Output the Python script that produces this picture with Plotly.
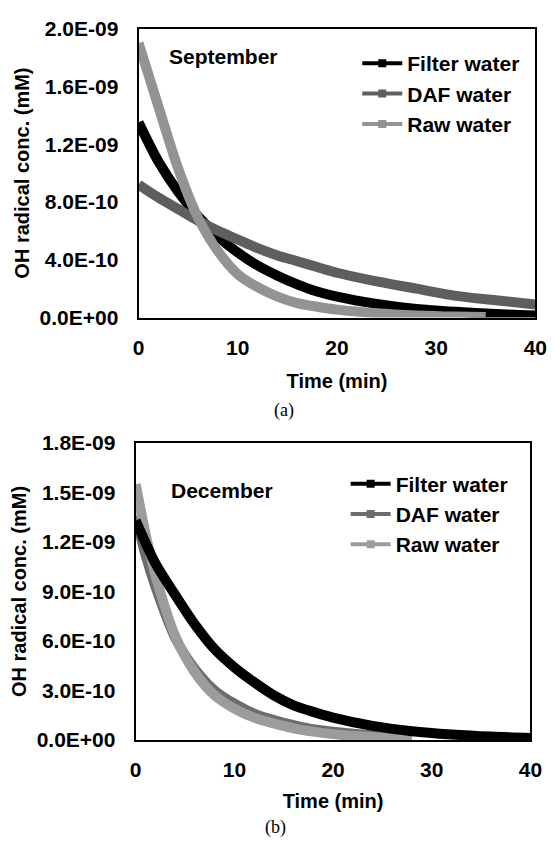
import plotly.graph_objects as go

# ---------------- data (OH radical conc., mM) ----------------
time_sep = [0, 2, 4, 6, 8, 10, 12, 14, 16, 18, 20, 24, 28, 32, 36, 40]
sep_filter = [1.35e-9, 1.08e-9, 0.87e-9, 0.70e-9, 0.56e-9, 0.45e-9, 0.36e-9, 0.29e-9,
              0.23e-9, 0.18e-9, 0.145e-9, 0.095e-9, 0.06e-9, 0.04e-9, 0.025e-9, 0.015e-9]
sep_daf = [0.92e-9, 0.83e-9, 0.75e-9, 0.67e-9, 0.60e-9, 0.54e-9, 0.48e-9, 0.43e-9,
           0.39e-9, 0.35e-9, 0.31e-9, 0.25e-9, 0.20e-9, 0.15e-9, 0.12e-9, 0.09e-9]
time_sep_raw = [0, 2, 4, 6, 8, 10, 12, 14, 16, 18, 20, 24, 28, 32, 35]
sep_raw = [1.90e-9, 1.46e-9, 1.03e-9, 0.69e-9, 0.46e-9, 0.30e-9, 0.21e-9, 0.145e-9,
           0.10e-9, 0.075e-9, 0.055e-9, 0.03e-9, 0.015e-9, 0.007e-9, 0.004e-9]

time_dec = [0, 2, 4, 6, 8, 10, 12, 14, 16, 18, 20, 24, 28, 32, 36, 40]
dec_filter = [1.33e-9, 1.07e-9, 0.88e-9, 0.70e-9, 0.55e-9, 0.44e-9, 0.35e-9, 0.27e-9,
              0.21e-9, 0.17e-9, 0.135e-9, 0.085e-9, 0.053e-9, 0.033e-9, 0.02e-9, 0.012e-9]
time_dec_gray = [0, 1, 2, 4, 6, 8, 10, 12, 14, 16, 18, 20, 24, 28]
dec_daf = [1.36e-9, 1.12e-9, 0.93e-9, 0.62e-9, 0.43e-9, 0.30e-9, 0.22e-9, 0.16e-9,
           0.12e-9, 0.09e-9, 0.065e-9, 0.05e-9, 0.028e-9, 0.015e-9]
dec_raw = [1.55e-9, 1.25e-9, 1.00e-9, 0.63e-9, 0.41e-9, 0.27e-9, 0.19e-9, 0.135e-9,
           0.10e-9, 0.07e-9, 0.05e-9, 0.035e-9, 0.018e-9, 0.008e-9]

series_names = ["Filter water", "DAF water", "Raw water"]
x_ticks = [0, 10, 20, 30, 40]
sep_yticks = [0, 0.4e-9, 0.8e-9, 1.2e-9, 1.6e-9, 2.0e-9]
sep_yticktext = ["0.0E+00", "4.0E-10", "8.0E-10", "1.2E-09", "1.6E-09", "2.0E-09"]
dec_yticks = [0, 0.3e-9, 0.6e-9, 0.9e-9, 1.2e-9, 1.5e-9, 1.8e-9]
dec_yticktext = ["0.0E+00", "3.0E-10", "6.0E-10", "9.0E-10", "1.2E-09", "1.5E-09", "1.8E-09"]

# ---------------- styling ----------------
W, H = 557, 856
FONT = "Liberation Sans, Arial, sans-serif"
sep_colors = ["#000000", "#5e5e5e", "#939393"]
dec_colors = ["#000000", "#6c6c6c", "#9c9c9c"]
LW = 10


def px_x(p):
    return p / W


def px_y(p):
    return 1 - p / H


def bold(size):
    return dict(family=FONT, size=size, color="black", weight="bold")


fig = go.Figure()

# September panel curves
for t, v, c, n in [(time_sep, sep_filter, sep_colors[0], series_names[0]),
                   (time_sep, sep_daf, sep_colors[1], series_names[1]),
                   (time_sep_raw, sep_raw, sep_colors[2], series_names[2])]:
    fig.add_trace(go.Scatter(x=t, y=v, mode="lines", name=n, showlegend=False,
                             line=dict(color=c, width=LW, shape="spline", smoothing=0.8),
                             xaxis="x", yaxis="y"))
# December panel curves
for t, v, c, n in [(time_dec_gray, dec_daf, dec_colors[1], series_names[1]),
                   (time_dec_gray, dec_raw, dec_colors[2], series_names[2]),
                   (time_dec, dec_filter, dec_colors[0], series_names[0])]:
    fig.add_trace(go.Scatter(x=t, y=v, mode="lines", name=n, showlegend=False,
                             line=dict(color=c, width=LW, shape="spline", smoothing=0.8),
                             xaxis="x2", yaxis="y2"))

# legend entries
for i, n in enumerate(series_names):
    fig.add_trace(go.Scatter(x=[None], y=[None], mode="lines+markers", name=n,
                             line=dict(color=sep_colors[i], width=4),
                             marker=dict(color=sep_colors[i], size=8, symbol="square"),
                             xaxis="x", yaxis="y", legend="legend"))
for i, n in enumerate(series_names):
    fig.add_trace(go.Scatter(x=[None], y=[None], mode="lines+markers", name=n,
                             line=dict(color=dec_colors[i], width=4),
                             marker=dict(color=dec_colors[i], size=8, symbol="square"),
                             xaxis="x2", yaxis="y2", legend="legend2"))

axis_common = dict(showline=True, linecolor="black", linewidth=2, mirror=True,
                   showgrid=False, zeroline=False, ticks="",
                   tickfont=bold(21))

fig.update_layout(
    width=W, height=H,
    margin=dict(l=0, r=0, t=0, b=0),
    paper_bgcolor="white", plot_bgcolor="white",
    font=dict(family=FONT, color="black"),
    xaxis=dict(domain=[px_x(137), px_x(547)], range=[0, 40], tickvals=x_ticks,
               anchor="y", ticklabelstandoff=10,
               title=dict(text="Time (min)", standoff=16, font=bold(20)),
               **axis_common),
    yaxis=dict(domain=[px_y(314), px_y(17)], range=[0, 2.0e-9], tickvals=sep_yticks,
               ticktext=sep_yticktext, anchor="x", ticklabelstandoff=14,
               title=dict(text="OH radical conc. (mM)", standoff=5, font=bold(20)),
               **axis_common),
    xaxis2=dict(domain=[px_x(134), px_x(542)], range=[0, 40], tickvals=x_ticks,
                anchor="y2", ticklabelstandoff=10,
                title=dict(text="Time (min)", standoff=14, font=bold(20)),
                **axis_common),
    yaxis2=dict(domain=[px_y(748), px_y(443)], range=[0, 1.8e-9], tickvals=dec_yticks,
                ticktext=dec_yticktext, anchor="x2", ticklabelstandoff=14,
                title=dict(text="OH radical conc. (mM)", standoff=5, font=bold(20)),
                **axis_common),
    legend=dict(x=px_x(363), y=px_y(32), xanchor="left", yanchor="top",
                bgcolor="rgba(0,0,0,0)", itemwidth=40, tracegroupgap=0,
                font=bold(21)),
    legend2=dict(x=px_x(351), y=px_y(464), xanchor="left", yanchor="top",
                 bgcolor="rgba(0,0,0,0)", itemwidth=40, tracegroupgap=0,
                 font=bold(21)),
    annotations=[
        dict(text="September", x=px_x(166), y=px_y(46), xref="paper", yref="paper",
             xanchor="left", yanchor="middle", showarrow=False, font=bold(21)),
        dict(text="December", x=px_x(168), y=px_y(492), xref="paper", yref="paper",
             xanchor="left", yanchor="middle", showarrow=False, font=bold(21)),
        dict(text="(a)", x=px_x(287), y=px_y(409), xref="paper", yref="paper",
             xanchor="center", yanchor="middle", showarrow=False,
             font=dict(family="Liberation Serif, Times New Roman, serif", size=18, color="black")),
        dict(text="(b)", x=px_x(278), y=px_y(838), xref="paper", yref="paper",
             xanchor="center", yanchor="middle", showarrow=False,
             font=dict(family="Liberation Serif, Times New Roman, serif", size=18, color="black")),
    ],
)

fig.write_html("out.html", config={"displayModeBar": False},
               post_script="document.body.style.margin='0';document.body.style.padding='0';")
